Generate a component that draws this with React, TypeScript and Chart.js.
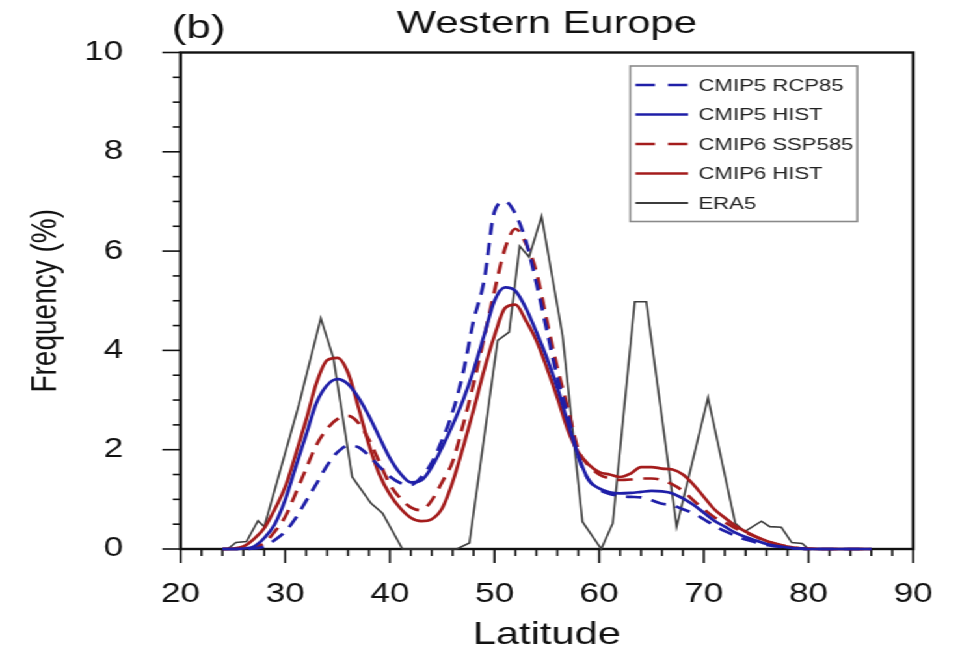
import React, { useEffect, useRef } from 'react';
import { Chart, registerables } from 'chart.js';

Chart.register(...registerables);

// ---------------- data ----------------
const latitudes = [
  24, 25, 26, 27, 28, 29, 30, 31, 32, 33, 34, 35, 36, 37, 38, 39, 40, 41, 42, 43, 44,
  45, 46, 47, 48, 49, 50, 51, 52, 53, 54, 55, 56, 57, 58, 59, 60, 61, 62, 63, 64, 65,
  66, 67, 68, 69, 70, 71, 72, 73, 74, 75, 76, 77, 78, 79, 80, 81, 82, 83, 84, 85, 86,
];

const cmip5Rcp85 = [
  0, 0, 0, 0.01, 0.05, 0.18, 0.35, 0.62, 0.97, 1.32, 1.68, 1.95, 2.08, 2.05, 1.88, 1.66, 1.46, 1.33, 1.29, 1.45, 1.74,
  2.2, 2.76, 3.55, 4.6, 5.4, 6.8, 7.0, 6.75, 6.2, 5.35, 4.4, 3.45, 2.7, 1.85, 1.4, 1.2, 1.11, 1.07, 1.05, 1.04, 0.98,
  0.91, 0.88, 0.8, 0.72, 0.6, 0.47, 0.36, 0.27, 0.19, 0.13, 0.08, 0.05, 0.02, 0.01, 0, 0, 0, 0, 0, 0, 0,
];

const cmip5Hist = [
  0, 0, 0.01, 0.05, 0.22, 0.5, 0.99, 1.65, 2.3, 2.95, 3.3, 3.42, 3.32, 3.05, 2.68, 2.25, 1.83, 1.52, 1.34, 1.38, 1.65,
  2.05, 2.5, 3.0, 3.6, 4.3, 5.0, 5.27, 5.2, 4.85, 4.37, 3.85, 3.25, 2.55, 1.88, 1.38, 1.22, 1.14, 1.12, 1.13, 1.15, 1.17,
  1.16, 1.12, 1.02, 0.89, 0.73, 0.57, 0.45, 0.33, 0.24, 0.17, 0.1, 0.06, 0.03, 0.01, 0, 0, 0, 0, 0, 0, 0,
];

const cmip6Ssp585 = [
  0, 0, 0, 0.03, 0.12, 0.35, 0.65, 1.12, 1.62, 2.1, 2.42, 2.62, 2.68, 2.54, 2.2, 1.75, 1.3, 1.02, 0.84, 0.78, 0.98,
  1.35, 1.76, 2.5, 3.33, 4.25, 5.2, 6.05, 6.45, 6.15, 5.58, 4.6, 3.65, 2.85, 2.0, 1.68, 1.5, 1.42, 1.39, 1.4, 1.42, 1.42,
  1.39, 1.3, 1.17, 0.98, 0.8, 0.64, 0.54, 0.42, 0.33, 0.24, 0.16, 0.1, 0.05, 0.02, 0, 0, 0, 0, 0, 0, 0,
];

const cmip6Hist = [
  0, 0.01, 0.05, 0.2, 0.42, 0.8, 1.25, 1.9, 2.6, 3.35, 3.8, 3.85, 3.55, 2.85, 2.1, 1.5, 1.1, 0.82, 0.63, 0.56, 0.6,
  0.82, 1.35, 2.05, 2.8, 3.6, 4.3, 4.85, 4.92, 4.6, 4.2, 3.65, 3.05, 2.4, 1.95, 1.7, 1.55, 1.5, 1.45, 1.52, 1.65, 1.65,
  1.62, 1.6, 1.5, 1.3, 1.05, 0.8, 0.63, 0.47, 0.35, 0.25, 0.16, 0.09, 0.05, 0.02, 0.01, 0, 0, 0, 0, 0, 0,
];

const era5Lat = [
  24.5, 25.3, 26.3, 27.4, 28.0, 31.3, 33.4, 34.6, 36.4, 38.2, 39.3, 41.2, 46.4, 47.6, 50.3, 51.4, 52.4, 53.3,
  54.5, 56.5, 58.4, 60.2, 61.3, 63.4, 64.5, 67.4, 70.4, 73.0, 73.9, 75.5, 76.3, 77.4, 78.4, 79.4, 80.0,
];
const era5Val = [
  0, 0.13, 0.15, 0.57, 0.45, 2.9, 4.65, 3.85, 1.45, 0.92, 0.72, 0, 0, 0.12, 4.2, 4.37, 6.1, 5.88,
  6.7, 4.3, 0.55, 0, 0.52, 4.98, 4.98, 0.45, 3.05, 0.52, 0.35, 0.56, 0.45, 0.44, 0.13, 0.11, 0,
];

const xTickLabels = [20, 30, 40, 50, 60, 70, 80, 90];
const yTickLabels = [0, 2, 4, 6, 8, 10];
const seriesLabels = ['CMIP5 RCP85', 'CMIP5 HIST', 'CMIP6 SSP585', 'CMIP6 HIST', 'ERA5'];

// ---------------- style ----------------
const W = 738;
const H = 649;
const STRETCH = 960 / W;
const FONT = '"Liberation Sans", Arial, Helvetica, sans-serif';
const BLUE = '#1f1fa8';
const RED = '#a41c1c';
const GRAY = '#3c3c3c';
const DASH = [12, 8];

const toPoints = (xs: number[], ys: number[]) => xs.map((x, i) => ({ x, y: ys[i] }));

const axesPlugin = {
  id: 'nclAxes',
  beforeDatasetsDraw(chart: any) {
    const { ctx, chartArea: a, scales } = chart;
    const x = scales.x;
    const y = scales.y;
    ctx.save();
    ctx.strokeStyle = '#111';
    ctx.lineWidth = 1.6;
    for (let v = 20; v <= 90; v += 2) {
      const px = x.getPixelForValue(v);
      const major = v % 10 === 0;
      ctx.beginPath();
      ctx.moveTo(px, a.bottom);
      ctx.lineTo(px, a.bottom + (major ? 14 : 7));
      ctx.stroke();
    }
    for (let k = 0; k <= 20; k++) {
      const v = k * 0.5;
      const py = y.getPixelForValue(v);
      const major = k % 4 === 0;
      ctx.beginPath();
      ctx.moveTo(a.left, py);
      ctx.lineTo(a.left - (major ? 14 : 6), py);
      ctx.stroke();
    }
    ctx.lineWidth = 2.4;
    ctx.strokeRect(a.left, a.top, a.right - a.left, a.bottom - a.top);
    ctx.restore();
  },
};

const decorPlugin = {
  id: 'nclDecor',
  afterDraw(chart: any) {
    const { ctx, chartArea: a } = chart;
    ctx.save();
    ctx.fillStyle = '#111';
    ctx.textBaseline = 'alphabetic';
    ctx.font = `32px ${FONT}`;
    ctx.textAlign = 'center';
    ctx.fillText('Western Europe', (a.left + a.right) / 2, 33);
    ctx.textAlign = 'left';
    ctx.font = `34px ${FONT}`;
    ctx.fillText('(b)', 132, 38);

    // legend box
    const bx = 484.5;
    const by = 66;
    const bw = 174.5;
    const bh = 155.5;
    ctx.fillStyle = '#fff';
    ctx.fillRect(bx, by, bw, bh);
    ctx.strokeStyle = '#8a8a8a';
    ctx.lineWidth = 1.6;
    ctx.strokeRect(bx, by, bw, bh);
    const rowY = [85, 114.5, 144, 173.5, 203];
    chart.data.datasets.forEach((ds: any, i: number) => {
      const ry = rowY[i];
      ctx.beginPath();
      ctx.strokeStyle = ds.borderColor;
      ctx.lineWidth = ds.borderWidth > 2 ? 2.6 : 1.9;
      ctx.setLineDash(ds.borderDash && ds.borderDash.length ? [15, 10] : []);
      ctx.moveTo(488.5, ry);
      ctx.lineTo(529, ry);
      ctx.stroke();
      ctx.setLineDash([]);
      ctx.fillStyle = '#222';
      ctx.font = `17px ${FONT}`;
      ctx.textAlign = 'left';
      ctx.textBaseline = 'middle';
      ctx.fillText(ds.label, 537, ry + 1);
    });
    ctx.restore();
  },
};

export default function App() {
  const ref = useRef<HTMLCanvasElement>(null);

  useEffect(() => {
    if (!ref.current) return;
    const modelStyle = (color: string, dashed: boolean) => ({
      borderColor: color,
      backgroundColor: color,
      borderWidth: 2.7,
      borderDash: dashed ? DASH : [],
      pointRadius: 0,
      fill: false,
      cubicInterpolationMode: 'monotone' as const,
      clip: 4,
    });
    const chart = new Chart(ref.current, {
      type: 'line',
      data: {
        datasets: [
          { label: seriesLabels[0], data: toPoints(latitudes, cmip5Rcp85), ...modelStyle(BLUE, true) },
          { label: seriesLabels[1], data: toPoints(latitudes, cmip5Hist), ...modelStyle(BLUE, false) },
          { label: seriesLabels[2], data: toPoints(latitudes, cmip6Ssp585), ...modelStyle(RED, true) },
          { label: seriesLabels[3], data: toPoints(latitudes, cmip6Hist), ...modelStyle(RED, false) },
          {
            label: seriesLabels[4],
            data: toPoints(era5Lat, era5Val),
            borderColor: GRAY,
            backgroundColor: GRAY,
            borderWidth: 1.6,
            pointRadius: 0,
            tension: 0,
            fill: false,
            clip: 4,
          },
        ],
      },
      options: {
        responsive: false,
        devicePixelRatio: 1,
        animation: false,
        events: [],
        layout: { padding: { top: 52.5, right: 36, left: 0, bottom: 0 } },
        plugins: {
          legend: { display: false },
          title: { display: false },
          tooltip: { enabled: false },
        },
        scales: {
          x: {
            type: 'linear',
            min: 20,
            max: 90,
            afterBuildTicks: (s: any) => {
              s.ticks = xTickLabels.map((v) => ({ value: v }));
            },
            afterFit: (s: any) => {
              s.height = 100;
            },
            grid: { display: false },
            border: { display: false },
            ticks: {
              font: { family: FONT, size: 27 },
              color: '#111',
              padding: 21,
              maxRotation: 0,
              autoSkip: false,
            },
            title: {
              display: true,
              text: 'Latitude',
              color: '#111',
              font: { family: FONT, size: 32, lineHeight: 0.85 },
              padding: { top: 0, bottom: 0 },
            },
          },
          y: {
            type: 'linear',
            min: 0,
            max: 10,
            afterBuildTicks: (s: any) => {
              s.ticks = yTickLabels.map((v) => ({ value: v }));
            },
            afterFit: (s: any) => {
              s.width = 138.8;
            },
            grid: { display: false },
            border: { display: false },
            ticks: {
              font: { family: FONT, size: 27 },
              color: '#111',
              padding: 36,
            },
            title: {
              display: true,
              text: 'Frequency (%)',
              color: '#111',
              font: { family: FONT, size: 28, lineHeight: 1.2 },
              padding: { top: 18, bottom: 0 },
            },
          },
        },
      },
      plugins: [axesPlugin, decorPlugin],
    } as any);
    return () => chart.destroy();
  }, []);

  return (
    <div
      style={{
        position: 'fixed',
        left: 0,
        top: 0,
        width: W,
        height: H,
        background: '#fff',
        transform: `scaleX(${STRETCH})`,
        transformOrigin: '0 0',
      }}
    >
      <canvas ref={ref} width={W} height={H} style={{ width: W, height: H, display: 'block' }} />
    </div>
  );
}
